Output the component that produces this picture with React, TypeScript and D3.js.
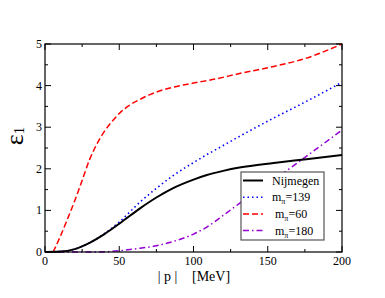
import React, { useEffect, useRef } from 'react'
import * as d3 from 'd3'

// momentum |p| in MeV
const pGrid = [0, 10, 20, 30, 40, 50, 64, 75, 86, 100, 109, 120, 131, 154, 176, 200]
const nijmegen = [0, 0.01, 0.07, 0.22, 0.43, 0.68, 1.05, 1.31, 1.53, 1.74, 1.85, 1.95, 2.03, 2.14, 2.23, 2.33]
const mpi139 = [0, 0.01, 0.07, 0.22, 0.44, 0.72, 1.2, 1.53, 1.83, 2.15, 2.34, 2.56, 2.78, 3.22, 3.62, 4.08]
const mpi180 = [0, 0, 0, 0, 0.005, 0.03, 0.09, 0.15, 0.25, 0.43, 0.6, 0.88, 1.17, 1.73, 2.3, 2.93]
const redP = [5.5, 10, 15, 20, 25, 30, 35, 40, 45, 50, 57, 64, 71, 77, 86, 100, 115, 131, 154, 176, 200]
const mpi60 = [0, 0.35, 0.78, 1.23, 1.72, 2.22, 2.6, 2.9, 3.13, 3.33, 3.53, 3.67, 3.79, 3.87, 3.96, 4.06, 4.16, 4.29, 4.46, 4.66, 5.0]

const xTicks = [0, 50, 100, 150, 200]
const yTicks = [0, 1, 2, 3, 4, 5]

const App = () => {
  const ref = useRef<SVGSVGElement>(null)

  useEffect(() => {
    const svg = d3.select(ref.current)
    svg.selectAll('*').remove()
    const margin = { top: 44, right: 43, bottom: 46, left: 45 }
    const width = 385 - margin.left - margin.right
    const height = 298 - margin.top - margin.bottom
    const font = '"Liberation Serif", "Times New Roman", serif'

    const x = d3.scaleLinear().domain([0, 200]).range([0, width])
    const y = d3.scaleLinear().domain([0, 5]).range([height, 0])

    const g = svg.append('g')
      .attr('transform', 'translate(' + margin.left + ',' + margin.top + ')')

    // ticks pointing inward on all four sides
    const xMinor = d3.range(0, 201, 25)
    const yMinor = d3.range(0, 5.01, 0.5)
    xMinor.forEach(v => {
      const len = v % 50 === 0 ? 6 : 3
      g.append('line').attr('x1', x(v)).attr('x2', x(v)).attr('y1', height).attr('y2', height - len).attr('stroke', '#000')
      g.append('line').attr('x1', x(v)).attr('x2', x(v)).attr('y1', 0).attr('y2', len).attr('stroke', '#000')
    })
    yMinor.forEach(v => {
      const len = Math.abs(v - Math.round(v)) < 1e-6 ? 6 : 3
      g.append('line').attr('x1', 0).attr('x2', len).attr('y1', y(v)).attr('y2', y(v)).attr('stroke', '#000')
      g.append('line').attr('x1', width).attr('x2', width - len).attr('y1', y(v)).attr('y2', y(v)).attr('stroke', '#000')
    })

    g.selectAll('.xl').data(xTicks).enter().append('text')
      .attr('x', d => x(d)).attr('y', height + 13)
      .attr('text-anchor', 'middle')
      .style('font-family', font).attr('font-size', 12)
      .text(d => d)
    g.selectAll('.yl').data(yTicks).enter().append('text')
      .attr('x', -3).attr('y', d => y(d) + 4)
      .attr('text-anchor', 'end')
      .style('font-family', font).attr('font-size', 12)
      .text(d => d)

    const line = d3.line<[number, number]>()
      .x(d => x(d[0]))
      .y(d => y(d[1]))
      .curve(d3.curveMonotoneX)

    const series = [
      { xs: pGrid, ys: mpi180, color: '#9400d3', dash: '6,3,1.5,3', w: 1.5 },
      { xs: pGrid, ys: mpi139, color: '#0000ff', dash: '1.5,3', w: 1.6 },
      { xs: redP, ys: mpi60, color: '#ff0000', dash: '6,3', w: 1.5 },
      { xs: pGrid, ys: nijmegen, color: '#000000', dash: null, w: 2 },
    ]
    series.forEach(s => {
      g.append('path')
        .datum(s.xs.map((v, i) => [v, s.ys[i]] as [number, number]))
        .attr('d', line)
        .attr('fill', 'none')
        .attr('stroke', s.color)
        .attr('stroke-width', s.w)
        .attr('stroke-dasharray', s.dash)
    })

    // frame
    g.append('rect').attr('width', width).attr('height', height)
      .attr('fill', 'none').attr('stroke', '#000').attr('stroke-width', 1.2)

    // legend
    const lg = svg.append('g').attr('transform', 'translate(241,172)')
    lg.append('rect').attr('width', 83).attr('height', 68)
      .attr('fill', '#fff').attr('stroke', '#555').attr('stroke-width', 1.2)
    const entries = [
      { color: '#000000', dash: null, w: 2, label: 'Nijmegen', sub: null, dx: 31 },
      { color: '#0000ff', dash: '1.5,3', w: 1.6, label: 'm', sub: '=139', dx: 31 },
      { color: '#ff0000', dash: '6,3', w: 1.5, label: 'm', sub: '=60', dx: 34 },
      { color: '#9400d3', dash: '6,3,1.5,3', w: 1.5, label: 'm', sub: '=180', dx: 34 },
    ]
    entries.forEach((e, i) => {
      const ly = 8.5 + i * 16.7
      lg.append('line').attr('x1', 2).attr('x2', 22).attr('y1', ly).attr('y2', ly)
        .attr('stroke', e.color).attr('stroke-width', e.w).attr('stroke-dasharray', e.dash)
      const t = lg.append('text').attr('x', e.dx).attr('y', ly + 4)
        .style('font-family', font).attr('font-size', 12)
      t.append('tspan').text(e.label)
      if (e.sub) {
        t.append('tspan').attr('dy', 3).attr('font-size', 8).text('\u03c0')
        t.append('tspan').attr('dy', -3).text(e.sub)
      }
    })

    // axis titles
    const yt = svg.append('text')
      .attr('transform', 'translate(23,' + 136 + ') rotate(-90)')
      .attr('text-anchor', 'middle')
      .style('font-family', font).attr('font-size', 26)
    yt.append('tspan').text('\u03b5')
    yt.append('tspan').attr('dy', 1).attr('font-size', 15).text('1')

    svg.append('text')
      .attr('x', 167.5).attr('y', 281)
      .attr('text-anchor', 'middle')
      .style('font-family', font).attr('font-size', 14)
      .text('| p |')
    svg.append('text')
      .attr('x', 192).attr('y', 281)
      .style('font-family', font).attr('font-size', 14)
      .text('[MeV]')
  }, [])

  return (
    <svg ref={ref} width={385} height={298} style={{ position: 'absolute', left: 0, top: 0 }}></svg>
  )
}

export default App
